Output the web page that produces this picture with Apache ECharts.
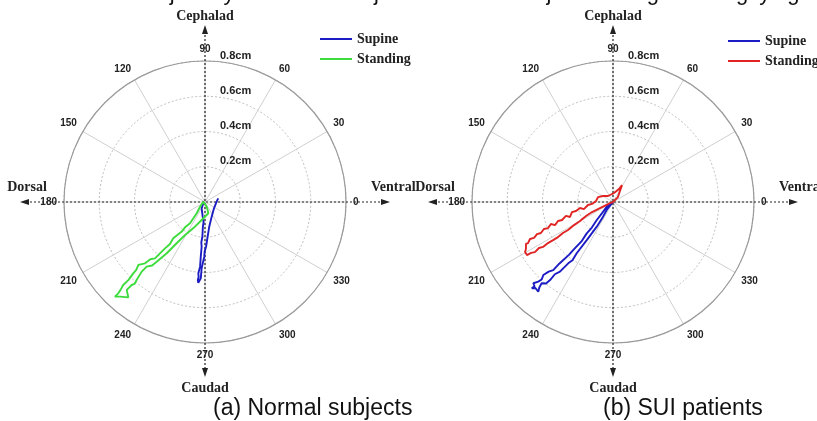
<!DOCTYPE html>
<html>
<head>
<meta charset="utf-8">
<script src="https://cdn.jsdelivr.net/npm/echarts@6/dist/echarts.min.js"></script>
<style>
  html, body { margin: 0; padding: 0; background: #fff; }
  #chart { width: 817px; height: 421px; }
</style>
</head>
<body>
<div id="chart"></div>
<script>
// trajectories, [ventral(+)/dorsal(-), cephalad(+)/caudad(-)] in cm
const normalSupine = [
  [-0.010, -0.007], [-0.019, -0.036], [-0.013, -0.083], [-0.008, -0.115], [-0.012, -0.140],
  [-0.015, -0.197], [-0.021, -0.230], [-0.019, -0.254], [-0.024, -0.310], [-0.026, -0.340],
  [-0.028, -0.367], [-0.038, -0.405], [-0.036, -0.425], [-0.041, -0.443], [-0.038, -0.458],
  [-0.034, -0.461], [-0.030, -0.452], [-0.024, -0.433], [-0.019, -0.376], [-0.012, -0.345],
  [-0.004, -0.310], [-0.002, -0.280], [0.006, -0.254], [0.015, -0.197], [0.020, -0.165],
  [0.024, -0.140], [0.038, -0.083], [0.051, -0.036], [0.066, 0.002], [0.075, 0.021]
];
const normalStanding = [
  [-0.010, 0.002], [-0.028, -0.027], [-0.047, -0.064], [-0.085, -0.121], [-0.110, -0.140],
  [-0.132, -0.168], [-0.180, -0.206], [-0.200, -0.240], [-0.227, -0.263], [-0.284, -0.320],
  [-0.310, -0.325], [-0.340, -0.348], [-0.378, -0.357], [-0.390, -0.385], [-0.407, -0.405],
  [-0.435, -0.443], [-0.464, -0.471], [-0.480, -0.500], [-0.492, -0.518], [-0.511, -0.537],
  [-0.482, -0.537], [-0.435, -0.541], [-0.444, -0.499], [-0.416, -0.471], [-0.400, -0.465],
  [-0.388, -0.443], [-0.359, -0.395], [-0.331, -0.367], [-0.300, -0.360], [-0.274, -0.339],
  [-0.217, -0.291], [-0.161, -0.234], [-0.113, -0.187], [-0.057, -0.140], [-0.019, -0.102],
  [0.019, -0.064], [0.010, -0.027], [-0.010, 0.002]
];
const suiSupine = [
  [0.000, 0.000], [-0.036, -0.027], [-0.060, -0.060], [-0.092, -0.102], [-0.120, -0.145],
  [-0.149, -0.178], [-0.180, -0.225], [-0.225, -0.272], [-0.250, -0.300], [-0.282, -0.329],
  [-0.305, -0.350], [-0.339, -0.386], [-0.365, -0.395], [-0.395, -0.414], [-0.405, -0.440],
  [-0.424, -0.452], [-0.452, -0.461], [-0.445, -0.478], [-0.461, -0.490], [-0.440, -0.488],
  [-0.433, -0.499], [-0.424, -0.509], [-0.418, -0.485], [-0.405, -0.461], [-0.380, -0.462],
  [-0.357, -0.443], [-0.330, -0.410], [-0.301, -0.395], [-0.254, -0.348], [-0.230, -0.330],
  [-0.206, -0.291], [-0.149, -0.216], [-0.092, -0.140], [-0.060, -0.090], [-0.036, -0.045],
  [0.000, 0.000]
];
const suiStanding = [
  [0.000, 0.000], [0.028, 0.028], [0.051, 0.096], [0.034, 0.074], [0.006, 0.051],
  [-0.028, 0.034], [-0.057, 0.034], [-0.085, 0.028], [-0.096, 0.006], [-0.119, -0.011],
  [-0.142, -0.017], [-0.165, -0.040], [-0.187, -0.034], [-0.210, -0.051], [-0.233, -0.057],
  [-0.244, -0.085], [-0.267, -0.079], [-0.289, -0.102], [-0.312, -0.108], [-0.329, -0.131],
  [-0.352, -0.125], [-0.369, -0.148], [-0.392, -0.153], [-0.409, -0.176], [-0.431, -0.182],
  [-0.448, -0.204], [-0.471, -0.210], [-0.482, -0.233], [-0.494, -0.238], [-0.494, -0.267],
  [-0.499, -0.284], [-0.488, -0.301], [-0.465, -0.289], [-0.443, -0.284], [-0.420, -0.261],
  [-0.397, -0.255], [-0.369, -0.233], [-0.340, -0.216], [-0.312, -0.199], [-0.284, -0.176],
  [-0.255, -0.159], [-0.221, -0.131], [-0.187, -0.108], [-0.153, -0.079], [-0.119, -0.057],
  [-0.085, -0.040], [-0.051, -0.023], [-0.017, -0.006], [0.000, 0.000]
];
const seriesNames = ['Supine', 'Standing'];
const captions = ['(a) Normal subjects', '(b) SUI patients'];
const dirLabels = { up: 'Cephalad', down: 'Caudad', left: 'Dorsal', right: 'Ventral' };

const BLUE = '#1c1cc4';
const GREEN = '#3ddc3d';
const RED = '#e02424';
const centers = [[205, 202], [613, 202]];
const R = 141;
const serif = '"Liberation Serif", "Times New Roman", serif';
const sans = '"Liberation Sans", Arial, sans-serif';

function toPolar(pts) {
  return pts.map(([x, y]) => {
    let a = Math.atan2(y, x) * 180 / Math.PI;
    if (a < 0) a += 360;
    return [Math.hypot(x, y), a];
  });
}

function crossGraphics(cx, cy) {
  const dash = { stroke: '#222', lineWidth: 1.2, lineDash: [2, 2] };
  const head = { fill: '#222' };
  const txt = (x, y, text, align) => ({
    type: 'text', x: x, y: y, z: 5,
    style: { text: text, font: 'bold 14px ' + serif, fill: '#222', align: align, verticalAlign: 'middle' }
  });
  return [
    { type: 'line', z: 1, shape: { x1: cx - 179, y1: cy, x2: cx + 179, y2: cy }, style: dash },
    { type: 'line', z: 1, shape: { x1: cx, y1: cy - 171, x2: cx, y2: cy + 169 }, style: dash },
    { type: 'polygon', z: 1, shape: { points: [[cx + 185, cy], [cx + 176, cy - 3], [cx + 176, cy + 3]] }, style: head },
    { type: 'polygon', z: 1, shape: { points: [[cx - 185, cy], [cx - 176, cy - 3], [cx - 176, cy + 3]] }, style: head },
    { type: 'polygon', z: 1, shape: { points: [[cx, cy - 177], [cx - 3, cy - 168], [cx + 3, cy - 168]] }, style: head },
    { type: 'polygon', z: 1, shape: { points: [[cx, cy + 175], [cx - 3, cy + 166], [cx + 3, cy + 166]] }, style: head },
    txt(cx, 16, dirLabels.up, 'center'),
    txt(cx, 388, dirLabels.down, 'center'),
    txt(cx - 178, 187, dirLabels.left, 'center'),
    txt(cx + 166, 187, dirLabels.right, 'left')
  ];
}

const polar = [];
const angleAxis = [];
const radiusAxis = [];
centers.forEach((c, i) => {
  polar.push({ center: c, radius: R });
  angleAxis.push({
    polarIndex: i, type: 'value', min: 0, max: 360, interval: 30,
    startAngle: 0, clockwise: false,
    axisLine: { lineStyle: { color: '#9a9a9a', width: 1.2 } },
    axisTick: { show: false },
    axisLabel: {
      margin: 7, color: '#222', fontFamily: sans, fontWeight: 'bold', fontSize: 10,
      formatter: v => (v === 360 ? '' : String(v))
    },
    splitLine: { lineStyle: { color: '#cfcfcf', width: 1 } }
  });
  radiusAxis.push({
    polarIndex: i, type: 'value', min: 0, max: 0.8, interval: 0.2,
    axisLine: { show: false }, axisTick: { show: false }, axisLabel: { show: false },
    splitLine: { lineStyle: { color: '#bdbdbd', type: [2, 2], width: 1 } }
  });
});
// extra polars only to place the ring labels along the vertical
centers.forEach((c, i) => {
  polar.push({ center: c, radius: R });
  angleAxis.push({ polarIndex: i + 2, startAngle: 90, show: false });
  radiusAxis.push({
    polarIndex: i + 2, type: 'value', min: 0, max: 0.8, interval: 0.2,
    axisLine: { show: false }, axisTick: { show: false }, splitLine: { show: false },
    axisLabel: {
      margin: -15, align: 'left', color: '#222', fontFamily: sans, fontWeight: 'bold', fontSize: 11,
      verticalAlign: 'bottom',
      formatter: v => (v === 0 ? '' : v.toFixed(1) + 'cm')
    }
  });
});

const lineSeries = (name, data, polarIndex, color) => ({
  name: name, type: 'line', coordinateSystem: 'polar', polarIndex: polarIndex,
  data: toPolar(data), symbol: 'none', smooth: false, z: 3,
  lineStyle: { color: color, width: 1.9 }, itemStyle: { color: color }
});

const legendText = { fontFamily: serif, fontWeight: 'bold', fontSize: 14, color: '#222' };
const option = {
  animation: false,
  polar: polar,
  angleAxis: angleAxis,
  radiusAxis: radiusAxis,
  legend: [
    {
      left: 315, top: 27, orient: 'vertical', icon: 'rect', itemWidth: 32, itemHeight: 2, itemGap: 6,
      textStyle: legendText, data: seriesNames
    },
    {
      left: 723, top: 29, orient: 'vertical', icon: 'rect', itemWidth: 32, itemHeight: 2, itemGap: 6,
      textStyle: legendText,
      data: [
        { name: 'Supine' },
        { name: 'Standing', itemStyle: { color: RED } }
      ]
    }
  ],
  series: [
    lineSeries(seriesNames[0], normalSupine, 0, BLUE),
    lineSeries(seriesNames[1], normalStanding, 0, GREEN),
    lineSeries(seriesNames[0], suiSupine, 1, BLUE),
    lineSeries(seriesNames[1], suiStanding, 1, RED)
  ],
  graphic: [
    ...crossGraphics(centers[0][0], centers[0][1]),
    ...crossGraphics(centers[1][0], centers[1][1]),
    {
      type: 'text', x: 72, y: 5, z: 5,
      style: {
        text: 'Motion trajectory of normal subjects and SUI subjects during straining lying and standing',
        font: '22px ' + sans, fill: '#111', verticalAlign: 'bottom'
      }
    },
    { type: 'text', x: 213, y: 409, z: 5, style: { text: captions[0], font: '23px ' + sans, fill: '#111', verticalAlign: 'middle' } },
    { type: 'text', x: 603, y: 409, z: 5, style: { text: captions[1], font: '23px ' + sans, fill: '#111', verticalAlign: 'middle' } }
  ]
};

const myChart = echarts.init(document.getElementById('chart'));
myChart.setOption(option);
</script>
</body>
</html>
